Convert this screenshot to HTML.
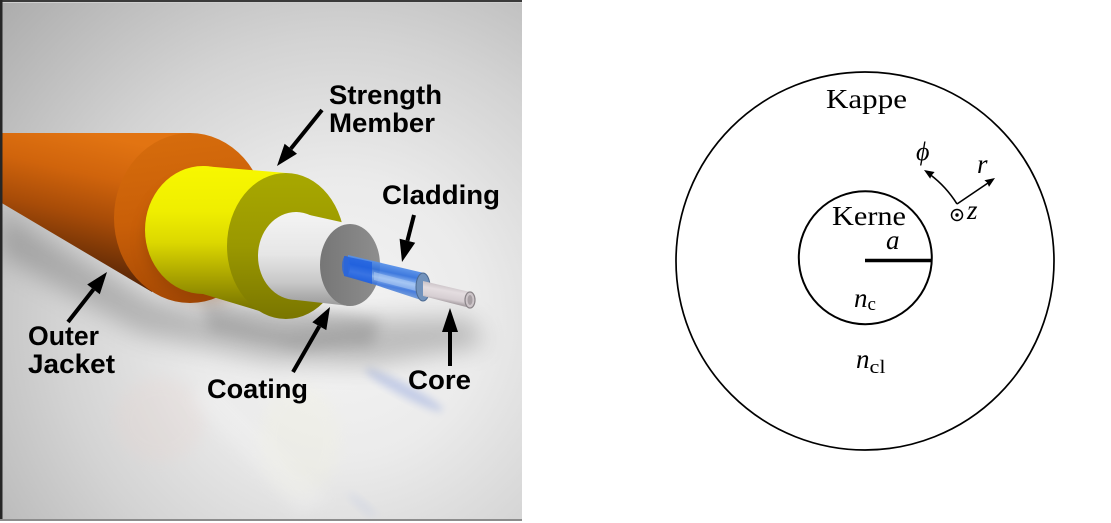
<!DOCTYPE html>
<html>
<head>
<meta charset="utf-8">
<style>
  html,body{margin:0;padding:0;background:#ffffff;}
  body{width:1111px;height:523px;overflow:hidden;}
  svg{display:block;}
</style>
</head>
<body>
<svg width="1111" height="523" viewBox="0 0 1111 523" xmlns="http://www.w3.org/2000/svg">
  <defs>
    <radialGradient id="bg" gradientUnits="userSpaceOnUse" cx="340" cy="320" r="470">
      <stop offset="0" stop-color="#f4f4f4"/>
      <stop offset="0.3" stop-color="#ebebeb"/>
      <stop offset="0.6" stop-color="#d3d3d3"/>
      <stop offset="1" stop-color="#ababab"/>
    </radialGradient>
    <filter id="b12" x="-50%" y="-50%" width="200%" height="200%"><feGaussianBlur stdDeviation="12"/></filter>
    <filter id="b7" x="-50%" y="-50%" width="200%" height="200%"><feGaussianBlur stdDeviation="7"/></filter>
    <filter id="b4" x="-50%" y="-50%" width="200%" height="200%"><feGaussianBlur stdDeviation="4"/></filter>

    <linearGradient id="orBody" gradientUnits="userSpaceOnUse" x1="90" y1="133" x2="60" y2="265">
      <stop offset="0" stop-color="#e27412"/>
      <stop offset="0.3" stop-color="#d0640c"/>
      <stop offset="0.6" stop-color="#a84c08"/>
      <stop offset="0.85" stop-color="#7a3606"/>
      <stop offset="1" stop-color="#5e2806"/>
    </linearGradient>
    <linearGradient id="orCap" gradientUnits="userSpaceOnUse" x1="180" y1="133" x2="200" y2="303">
      <stop offset="0" stop-color="#d66c0c"/>
      <stop offset="0.5" stop-color="#c95f08"/>
      <stop offset="1" stop-color="#a44804"/>
    </linearGradient>
    <linearGradient id="yeBody" gradientUnits="userSpaceOnUse" x1="0" y1="165" x2="0" y2="320">
      <stop offset="0" stop-color="#f8f800"/>
      <stop offset="0.3" stop-color="#efee00"/>
      <stop offset="0.5" stop-color="#dcd800"/>
      <stop offset="0.72" stop-color="#aaa400"/>
      <stop offset="0.9" stop-color="#807c00"/>
      <stop offset="1" stop-color="#6c6800"/>
    </linearGradient>
    <linearGradient id="yeCap" gradientUnits="userSpaceOnUse" x1="0" y1="173" x2="0" y2="319">
      <stop offset="0" stop-color="#a8a800"/>
      <stop offset="0.5" stop-color="#9a9800"/>
      <stop offset="1" stop-color="#7a7600"/>
    </linearGradient>
    <linearGradient id="whBody" gradientUnits="userSpaceOnUse" x1="0" y1="212" x2="0" y2="306">
      <stop offset="0" stop-color="#f4f4f4"/>
      <stop offset="0.45" stop-color="#e6e6e6"/>
      <stop offset="0.75" stop-color="#c8c8c8"/>
      <stop offset="1" stop-color="#9a9a9a"/>
    </linearGradient>
    <linearGradient id="grCap" gradientUnits="userSpaceOnUse" x1="320" y1="0" x2="380" y2="0">
      <stop offset="0" stop-color="#767676"/>
      <stop offset="1" stop-color="#8e8e8e"/>
    </linearGradient>
    <linearGradient id="blue" gradientUnits="userSpaceOnUse" x1="382" y1="262" x2="376" y2="290">
      <stop offset="0" stop-color="#5a94ec"/>
      <stop offset="0.3" stop-color="#2f6fdc"/>
      <stop offset="0.55" stop-color="#8fb8f2"/>
      <stop offset="0.78" stop-color="#3a74dc"/>
      <stop offset="1" stop-color="#6d98d8"/>
    </linearGradient>
    <linearGradient id="core" gradientUnits="userSpaceOnUse" x1="448" y1="285" x2="445" y2="302">
      <stop offset="0" stop-color="#c9c1c5"/>
      <stop offset="0.35" stop-color="#e4dde0"/>
      <stop offset="0.8" stop-color="#d6ced2"/>
      <stop offset="1" stop-color="#aaa2a6"/>
    </linearGradient>
  </defs>

  <!-- page background -->
  <rect x="0" y="0" width="1111" height="523" fill="#ffffff"/>

  <!-- ================= LEFT PANEL ================= -->
  <rect x="0" y="0" width="522" height="521" fill="url(#bg)"/>

  <!-- faint reflections -->
  <ellipse cx="160" cy="420" rx="45" ry="42" fill="#e9cfc8" opacity="0.18" filter="url(#b7)"/>
  <ellipse cx="300" cy="440" rx="40" ry="55" fill="#f2f2dc" opacity="0.25" filter="url(#b7)"/>
  <path d="M210,380 L330,500 L300,515 L190,400 Z" fill="#f4f4f4" opacity="0.3" filter="url(#b7)"/>
  <ellipse cx="404" cy="390" rx="44" ry="6" transform="rotate(28 404 390)" fill="#6a86d8" opacity="0.32" filter="url(#b4)"/>
  <ellipse cx="362" cy="505" rx="18" ry="4" transform="rotate(40 362 505)" fill="#a8b8e4" opacity="0.2" filter="url(#b4)"/>

  <!-- cast shadows -->
  <path d="M0,212 L150,298 L280,328 L360,318 L470,318 L485,345 L370,366 L270,362 L140,334 L0,255 Z" fill="#555" opacity="0.33" filter="url(#b12)"/>
  <path d="M200,300 L340,312 L380,320 L372,345 L300,350 L210,330 Z" fill="#555" opacity="0.25" filter="url(#b7)"/>

  <!-- Outer jacket -->
  <path d="M0,133 L190,133 L190,218 L152,292 L0,202 Z" fill="url(#orBody)"/>
  <ellipse cx="190" cy="218" rx="76" ry="85" fill="url(#orCap)"/>
  <ellipse cx="208" cy="240" rx="64" ry="62" fill="#7a3404" opacity="0.35" filter="url(#b7)"/>

  <!-- Strength member (yellow) -->
  <ellipse cx="203" cy="230" rx="58" ry="64" fill="url(#yeBody)"/>
  <path d="M203,166 L286,173 L286,319 L203,294 Z" fill="url(#yeBody)"/>
  <ellipse cx="286" cy="246" rx="59" ry="73" fill="url(#yeCap)"/>

  <!-- Coating (white) -->
  <ellipse cx="296" cy="256" rx="38" ry="44" fill="url(#whBody)"/>
  <path d="M296,212 L350,224 L350,306 L296,300 Z" fill="url(#whBody)"/>
  <ellipse cx="350" cy="265" rx="30" ry="41" fill="url(#grCap)"/>

  <!-- Cladding (blue) -->
  <path d="M348,255 L424,273 L424,301 L348,276 Z" fill="url(#blue)" opacity="0.92"/>
  <path d="M344,256 L372,262 L372,284 L344,276 Z" fill="#1c5ee0" opacity="0.75"/>
  <ellipse cx="346" cy="266" rx="4" ry="10" fill="#2a66dc" opacity="0.8"/>
  <path d="M374,272 L420,284 L420,292 L374,280 Z" fill="#b4cff6" opacity="0.5"/>
  <ellipse cx="423" cy="287" rx="7" ry="14" fill="#7192bc" stroke="#4c6a92" stroke-width="1"/>

  <!-- Core -->
  <path d="M423,281 L470,292 L470,308 L423,296 Z" fill="url(#core)"/>
  <ellipse cx="470" cy="300" rx="5" ry="8" fill="#cdc5c9" stroke="#8a8488" stroke-width="1.2"/>
  <ellipse cx="470" cy="300" rx="2.5" ry="5" fill="#a79fa3"/>

  <!-- Arrows -->
  <g fill="#000" stroke="none">
    <line x1="322" y1="110" x2="290.8" y2="148.8" stroke="#000" stroke-width="4"/>
    <polygon points="277,166 297.0,153.8 284.6,143.8"/>
    <line x1="68" y1="322" x2="93.5" y2="289.4" stroke="#000" stroke-width="4"/>
    <polygon points="107,272 99.8,294.3 87.2,284.5"/>
    <line x1="293" y1="372" x2="319.3" y2="326.2" stroke="#000" stroke-width="4"/>
    <polygon points="330,307 326.3,330.1 312.3,322.3"/>
    <line x1="414" y1="215" x2="407.4" y2="240.7" stroke="#000" stroke-width="4"/>
    <polygon points="402,262 415.2,242.7 399.6,238.7"/>
    <line x1="450" y1="366" x2="450" y2="330" stroke="#000" stroke-width="4"/>
    <polygon points="450,308 458,332 442,332"/>
  </g>

  <!-- Labels -->
  <g font-family="'Liberation Sans', Arial, sans-serif" font-weight="bold" font-size="27" fill="#000">
    <text x="329" y="104" textLength="113" lengthAdjust="spacingAndGlyphs">Strength</text>
    <text x="329" y="132" textLength="106" lengthAdjust="spacingAndGlyphs">Member</text>
    <text x="382" y="204" textLength="118" lengthAdjust="spacingAndGlyphs">Cladding</text>
    <text x="28" y="345" textLength="71" lengthAdjust="spacingAndGlyphs">Outer</text>
    <text x="28" y="373" textLength="87" lengthAdjust="spacingAndGlyphs">Jacket</text>
    <text x="207" y="398" textLength="101" lengthAdjust="spacingAndGlyphs">Coating</text>
    <text x="408" y="389" textLength="63" lengthAdjust="spacingAndGlyphs">Core</text>
  </g>

  <!-- panel borders -->
  <rect x="0" y="0" width="522" height="2" fill="#3a3a3a"/>
  <rect x="0" y="2" width="522" height="1" fill="#cfcfcf"/>
  <rect x="0" y="0" width="2.5" height="521" fill="#262626"/>
  <rect x="0" y="519" width="522" height="2" fill="#8c8c8c"/>

  <!-- ================= RIGHT DIAGRAM ================= -->
  <circle cx="865" cy="261" r="189" fill="none" stroke="#000" stroke-width="1.7"/>
  <circle cx="865.3" cy="257.7" r="66.5" fill="none" stroke="#000" stroke-width="2"/>
  <line x1="865" y1="260.5" x2="931.5" y2="260.5" stroke="#000" stroke-width="3.6"/>

  <!-- coordinate arrows -->
  <path d="M957,204 A108,108 0 0 0 930,174.5" fill="none" stroke="#000" stroke-width="1.6"/>
  <polygon points="924,170 934.6,172.0 931.4,175.6 930.2,178.8" fill="#000"/>
  <line x1="957" y1="204" x2="988" y2="183" stroke="#000" stroke-width="1.6"/>
  <polygon points="995,178 989.0,186.9 987.2,182.6 984.4,180.3" fill="#000"/>
  <circle cx="957" cy="215" r="5.5" fill="none" stroke="#000" stroke-width="1.5"/>
  <circle cx="957" cy="215" r="1.7" fill="#000"/>

  <g font-family="'Liberation Serif', 'DejaVu Serif', serif" font-size="27" fill="#000">
    <text x="826" y="108" textLength="81" lengthAdjust="spacingAndGlyphs">Kappe</text>
    <text x="832" y="225" textLength="74" lengthAdjust="spacingAndGlyphs">Kerne</text>
    <text x="886" y="249" font-style="italic">a</text>
    <text x="916" y="160" font-style="italic" font-size="26">ϕ</text>
    <text x="977" y="173" font-style="italic">r</text>
    <text x="967" y="219" font-style="italic">z</text>
    <text x="854" y="307" font-style="italic">n</text>
    <text x="867.5" y="310" font-size="19">c</text>
    <text x="856" y="368" font-style="italic">n</text>
    <text x="869.5" y="373" font-size="19" textLength="16" lengthAdjust="spacingAndGlyphs">cl</text>
  </g>
</svg>
</body>
</html>
